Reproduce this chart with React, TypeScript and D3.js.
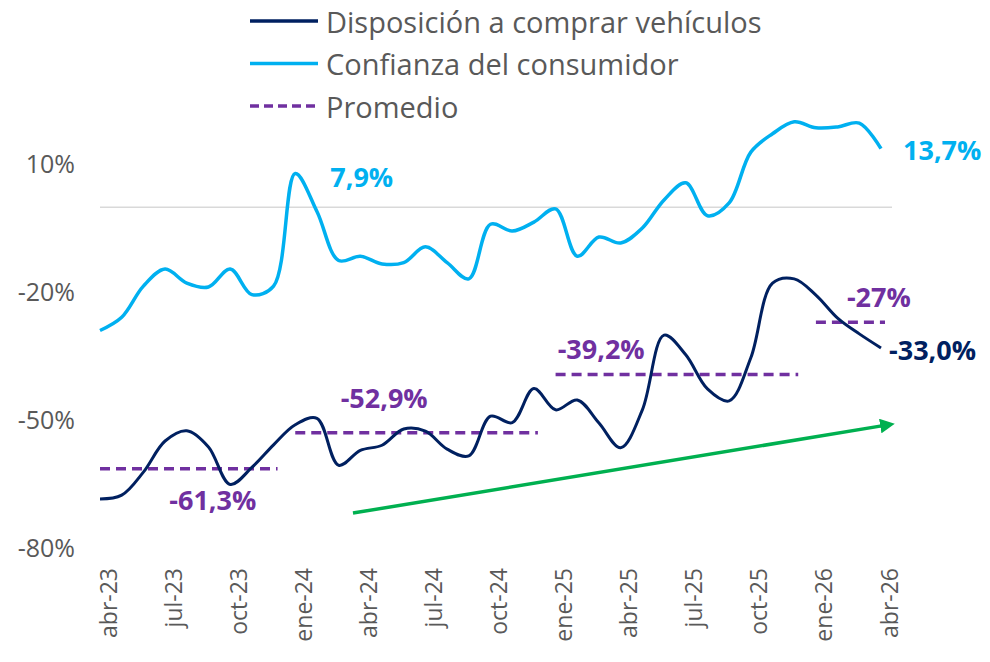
import React, { useEffect, useRef } from 'react'
import * as d3 from 'd3'

const months = [
  'abr-23', 'may-23', 'jun-23', 'jul-23', 'ago-23', 'sep-23', 'oct-23', 'nov-23', 'dic-23',
  'ene-24', 'feb-24', 'mar-24', 'abr-24', 'may-24', 'jun-24', 'jul-24', 'ago-24', 'sep-24', 'oct-24', 'nov-24', 'dic-24',
  'ene-25', 'feb-25', 'mar-25', 'abr-25', 'may-25', 'jun-25', 'jul-25', 'ago-25', 'sep-25', 'oct-25', 'nov-25', 'dic-25',
  'ene-26', 'feb-26', 'mar-26', 'abr-26',
]

const disposicion = [
  -68.4, -67.5, -62.1, -54.8, -52.4, -56.2, -65, -61, -55.7,
  -51, -49.5, -60.5, -57, -55.8, -52, -52.5, -56.7, -58.3, -49, -50.5, -42.5,
  -47.5, -45.2, -50.6, -56.4, -47.5, -30, -34.6, -42.6, -45.4, -35.3, -17.8, -16.8,
  -20.6, -26, -29.7, -33,
]

const confianza = [
  -28.9, -25.8, -18.5, -14.5, -17.8, -18.7, -14.5, -20.5, -18.5,
  7.9, -1, -12.5, -11.5, -13.3, -13, -9.3, -13, -16.8, -4, -5.6, -3.5,
  -0.4, -11.5, -7, -8.4, -4.9, 1.7, 5.7, -2, 1, 12.9, 17.2, 20,
  18.6, 18.8, 19.7, 13.7,
]

// yearly averages of disposicion (start / end month index, label centre index)
const promedios = [
  { start: 0, end: 8, value: -61.3, label: '-61,3%', at: 5.2, dy: 31 },
  { start: 9, end: 20, value: -52.9, label: '-52,9%', at: 13.1, dy: -35 },
  { start: 21, end: 32, value: -39.2, label: '-39,2%', at: 23.1, dy: -26 },
  { start: 33, end: 36, value: -27, label: '-27%', at: 35.9, dy: -26 },
]

const yTicks = [10, -20, -50, -80]
const xTicks = [0, 3, 6, 9, 12, 15, 18, 21, 24, 27, 30, 33, 36]

// trend arrow, in data units (month index, %)
const tendencia = [
  { i: 11.66, v: -71.7 },
  { i: 36.1, v: -51.2 },
]

const NAVY = '#002060'
const BLUE = '#00B0F0'
const PURPLE = '#7030A0'
const GREEN = '#00B050'
const GRAY = '#595959'
const FONT = "'Open Sans', sans-serif"

export default function App() {
  const ref = useRef<SVGSVGElement | null>(null)

  useEffect(() => {
    const svg = d3.select(ref.current!)
    svg.selectAll('*').remove()
    const width = 990
    const height = 662

    const x = d3.scaleLinear().domain([0, 36]).range([100, 881])
    const y = d3.scaleLinear().domain([-80, 10]).range([548.5, 164.5])

    // zero line
    svg.append('line')
      .attr('x1', 100).attr('x2', 892)
      .attr('y1', y(0)).attr('y2', y(0))
      .attr('stroke', '#D9D9D9').attr('stroke-width', 1.5)

    // y axis
    const ya = svg.append('g').attr('transform', 'translate(75,0)')
      .call(d3.axisLeft(y).tickValues(yTicks).tickSize(0).tickPadding(0).tickFormat(d => `${d}%`))
    ya.select('.domain').remove()
    ya.selectAll('text').attr('font-family', FONT).attr('font-size', 25).attr('fill', GRAY)

    // x axis
    const xa = svg.append('g').attr('transform', 'translate(0,560)')
      .call(d3.axisBottom(x).tickValues(xTicks).tickSize(0).tickFormat(d => months[d as number]))
    xa.select('.domain').remove()
    xa.selectAll('text')
      .attr('font-family', FONT).attr('font-size', 23).attr('fill', GRAY)
      .attr('transform', 'rotate(-90)')
      .attr('text-anchor', 'end')
      .attr('x', -8).attr('y', 8).attr('dy', '0.35em')

    const line = d3.line<number>().x((_, i) => x(i)).y(d => y(d)).curve(d3.curveCatmullRom.alpha(0.5))

    // averages
    const pg = svg.append('g')
    promedios.forEach(p => {
      pg.append('line')
        .attr('x1', x(p.start)).attr('x2', x(p.end) + 4)
        .attr('y1', y(p.value)).attr('y2', y(p.value))
        .attr('stroke', PURPLE).attr('stroke-width', 3.5).attr('stroke-dasharray', '10,6')
      pg.append('text')
        .attr('x', x(p.at))
        .attr('y', y(p.value) + p.dy)
        .attr('dominant-baseline', 'central').attr('text-anchor', 'middle')
        .attr('font-family', FONT).attr('font-weight', 700).attr('font-size', 27)
        .attr('fill', PURPLE).text(p.label)
    })

    svg.append('path').datum(confianza).attr('d', line)
      .attr('fill', 'none').attr('stroke', BLUE).attr('stroke-width', 3.5)
    svg.append('path').datum(disposicion).attr('d', line)
      .attr('fill', 'none').attr('stroke', NAVY).attr('stroke-width', 3)

    // trend arrow
    svg.append('defs').append('marker')
      .attr('id', 'arrow').attr('viewBox', '0 0 10 10').attr('refX', 2).attr('refY', 5)
      .attr('markerWidth', 4.2).attr('markerHeight', 4.2).attr('orient', 'auto')
      .append('path').attr('d', 'M0,0 L10,5 L0,10 z').attr('fill', GREEN)
    svg.append('line')
      .attr('x1', x(tendencia[0].i)).attr('y1', y(tendencia[0].v))
      .attr('x2', x(tendencia[1].i)).attr('y2', y(tendencia[1].v))
      .attr('stroke', GREEN).attr('stroke-width', 3.5).attr('marker-end', 'url(#arrow)')

    // end labels
    const lbl = (tx: number, ty: number, txt: string, color: string) =>
      svg.append('text').attr('x', tx).attr('y', ty).attr('dominant-baseline', 'central')
        .attr('font-family', FONT).attr('font-weight', 700).attr('font-size', 27)
        .attr('fill', color).text(txt)
    lbl(x(9) + 35, y(7.9) + 3, '7,9%', BLUE)
    lbl(x(36) + 22, y(confianza[36]) + 1, '13,7%', BLUE)
    lbl(x(36) + 8, y(disposicion[36]) + 2, '-33,0%', NAVY)

    // legend
    const legend = [
      { name: 'Disposición a comprar vehículos', color: NAVY, dash: null },
      { name: 'Confianza del consumidor', color: BLUE, dash: null },
      { name: 'Promedio', color: PURPLE, dash: '9,5' },
    ]
    const lg = svg.append('g')
    legend.forEach((l, i) => {
      const ly = 21 + i * 42.5
      lg.append('line').attr('x1', 250).attr('x2', 318).attr('y1', ly).attr('y2', ly)
        .attr('stroke', l.color).attr('stroke-width', 3.5)
        .attr('stroke-dasharray', l.dash)
      lg.append('text').attr('x', 326).attr('y', ly).attr('dominant-baseline', 'central')
        .attr('font-family', FONT).attr('font-size', 29).attr('fill', GRAY).text(l.name)
    })

    svg.attr('width', width).attr('height', height)
  }, [])

  return (
    <svg ref={ref} width={990} height={662}
      style={{ position: 'absolute', left: 0, top: 0, background: '#fff' }} />
  )
}
